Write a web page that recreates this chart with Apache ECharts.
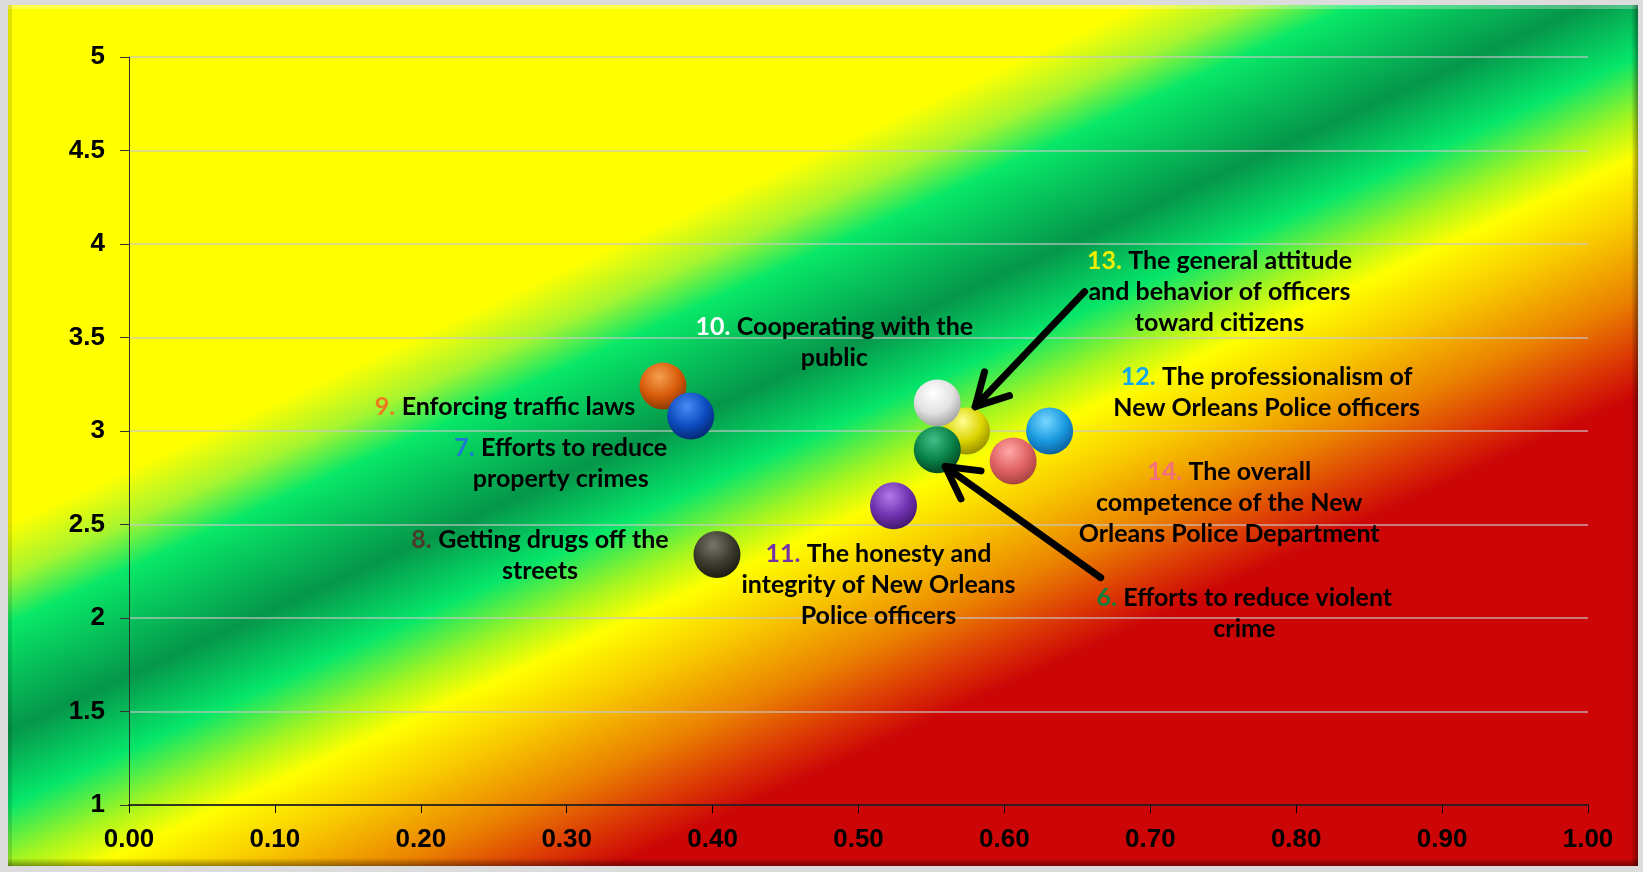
<!DOCTYPE html>
<html>
<head>
<meta charset="utf-8">
<title>NOPD ratings</title>
<script src="https://cdn.jsdelivr.net/npm/echarts@6/dist/echarts.min.js"></script>
<style>
html, body { margin: 0; padding: 0; background: #dcdcdc; }
#chart { width: 1643px; height: 872px; }
</style>
</head>
<body>
<div id="chart"></div>
<script>
// survey items
const itemNumbers = ['6.', '7.', '8.', '9.', '10.', '11.', '12.', '13.', '14.'];
const itemLines = [
    ['Efforts to reduce violent', 'crime'],
    ['Efforts to reduce', 'property crimes'],
    ['Getting drugs off the', 'streets'],
    ['Enforcing traffic laws'],
    ['Cooperating with the', 'public'],
    ['The honesty and', 'integrity of New Orleans', 'Police officers'],
    ['The professionalism of', 'New Orleans Police officers'],
    ['The general attitude', 'and behavior of officers', 'toward citizens'],
    ['The overall', 'competence of the New', 'Orleans Police Department']
];
const xValues = [0.554, 0.385, 0.403, 0.366, 0.554, 0.524, 0.631, 0.574, 0.606];
const yValues = [2.90, 3.08, 2.34, 3.24, 3.15, 2.60, 3.00, 3.00, 2.84];

// arrows (from -> to), in axis units
const arrowFrom = [[0.655, 3.745], [0.666, 2.216]];
const arrowTo = [[0.580, 3.130], [0.5595, 2.810]];

// axis ticks
const xTicks = [0, 0.1, 0.2, 0.3, 0.4, 0.5, 0.6, 0.7, 0.8, 0.9, 1.0];
const yTicks = [1, 1.5, 2, 2.5, 3, 3.5, 4, 4.5, 5];

// styles
const numColors = ['#0f7d3e', '#1f78d6', '#4b3a2a', '#ec7a1e', '#ffffff', '#7432a8', '#12a6ee', '#f2f000', '#f2707e'];
const ballColors = [
    ['#3fc088', '#098248', '#02401f'],
    ['#4a8cf5', '#0d4cc0', '#04246a'],
    ['#77766a', '#3c3b2e', '#18170f'],
    ['#f5a050', '#d85c0a', '#853404'],
    ['#ffffff', '#e2e2e2', '#9a9a9a'],
    ['#b27ae8', '#7032b0', '#3c1566'],
    ['#7ad8ff', '#1a9ae0', '#0a5896'],
    ['#ffff90', '#dcd400', '#8c8400'],
    ['#ffa8a8', '#e06262', '#a03c3c']
];
const labelOffsets = [[307, 164], [-130, 47], [-177, 1], [-158, 21], [-103, -61], [-15, 79], [217, -39], [253, -139], [216, 42]];
const drawOrder = [7, 8, 6, 5, 2, 3, 1, 4, 0];

const chart = echarts.init(document.getElementById('chart'));

const textFont = { fontFamily: 'Lato', fontSize: 25, fontWeight: 'bold', lineHeight: 31, align: 'center' };

const points = drawOrder.map(function (k) {
    const rich = {
        n: Object.assign({}, textFont, { color: numColors[k] }),
        t: Object.assign({}, textFont, { color: '#000' })
    };
    const text = itemLines[k].map(function (line, j) {
        return j === 0 ? '{n|' + itemNumbers[k] + '} {t|' + line + '}' : '{t|' + line + '}';
    }).join('\n');
    return {
        name: itemNumbers[k],
        value: [xValues[k], yValues[k]],
        itemStyle: {
            opacity: 1,
            color: {
                type: 'radial', x: 0.42, y: 0.3, r: 0.75,
                colorStops: [
                    { offset: 0, color: ballColors[k][0] },
                    { offset: 0.55, color: ballColors[k][1] },
                    { offset: 1, color: ballColors[k][2] }
                ]
            }
        },
        label: { offset: labelOffsets[k], formatter: text, rich: rich }
    };
});

const arrows = arrowFrom.map(function (f, i) {
    return [f[0], f[1], arrowTo[i][0], arrowTo[i][1]];
});

function renderArrow(params, api) {
    const from = api.coord([api.value(0), api.value(1)]);
    const to = api.coord([api.value(2), api.value(3)]);
    const ang = Math.atan2(from[1] - to[1], from[0] - to[0]);
    const len = 36, spread = 0.5;
    const w1 = [to[0] + len * Math.cos(ang - spread), to[1] + len * Math.sin(ang - spread)];
    const w2 = [to[0] + len * Math.cos(ang + spread), to[1] + len * Math.sin(ang + spread)];
    const style = { stroke: '#000', lineWidth: 7, lineCap: 'round', lineJoin: 'round', fill: null };
    return {
        type: 'group',
        children: [
            { type: 'line', shape: { x1: from[0], y1: from[1], x2: to[0], y2: to[1] }, style: style },
            { type: 'polyline', shape: { points: [w1, to, w2] }, style: style }
        ]
    };
}

// diagonal band background: yellow / green / yellow / orange / red
const bandFill = new echarts.graphic.LinearGradient(0, 0, 627, 1364, [
    { offset: 0, color: '#ffff00' },
    { offset: 0.32, color: '#ffff00' },
    { offset: 0.352, color: '#a6f530' },
    { offset: 0.38, color: '#08e868' },
    { offset: 0.445, color: '#05964a' },
    { offset: 0.49, color: '#06e66a' },
    { offset: 0.525, color: '#a6f520' },
    { offset: 0.55, color: '#ffff00' },
    { offset: 0.59, color: '#f8c800' },
    { offset: 0.635, color: '#ea8000' },
    { offset: 0.668, color: '#dc3a04' },
    { offset: 0.695, color: '#cc0606' },
    { offset: 1, color: '#cc0606' }
], true);

const option = {
    backgroundColor: '#dcdcdc',
    animation: false,
    graphic: [
        { type: 'rect', z: -10, shape: { x: 8, y: 5, width: 1630, height: 861 }, style: { fill: bandFill } },
        { type: 'rect', z: -9, shape: { x: 8, y: 5, width: 1630, height: 4 }, style: { fill: 'rgba(255,255,255,0.3)' } },
        { type: 'rect', z: -9, shape: { x: 8, y: 5, width: 4, height: 861 }, style: { fill: 'rgba(0,0,0,0.12)' } },
        {
            type: 'rect', z: -9, shape: { x: 8, y: 858, width: 1630, height: 8 },
            style: { fill: new echarts.graphic.LinearGradient(0, 0, 0, 1, [{ offset: 0, color: 'rgba(0,0,0,0)' }, { offset: 1, color: 'rgba(0,0,0,0.4)' }]) }
        },
        {
            type: 'rect', z: -9, shape: { x: 1631, y: 5, width: 7, height: 861 },
            style: { fill: new echarts.graphic.LinearGradient(0, 0, 1, 0, [{ offset: 0, color: 'rgba(0,0,0,0)' }, { offset: 1, color: 'rgba(0,0,0,0.4)' }]) }
        }
    ],
    grid: { left: 129, right: 55, top: 57, bottom: 67, containLabel: false, outerBoundsMode: 'none' },
    xAxis: {
        type: 'value',
        min: xTicks[0],
        max: xTicks[xTicks.length - 1],
        interval: 0.1,
        splitLine: { show: false },
        axisLine: { show: true, onZero: false, lineStyle: { color: '#000', width: 1.5 } },
        axisTick: { show: true, length: 8, lineStyle: { color: '#000' } },
        axisLabel: {
            margin: 22,
            color: '#000',
            fontFamily: 'Liberation Sans',
            fontSize: 26,
            fontWeight: 'bold',
            formatter: function (v) { return v.toFixed(2); }
        }
    },
    yAxis: {
        type: 'value',
        min: yTicks[0],
        max: yTicks[yTicks.length - 1],
        interval: 0.5,
        splitLine: { show: true, lineStyle: { color: 'rgba(200,200,200,0.8)', width: 1.5 } },
        axisLine: { show: true, onZero: false, lineStyle: { color: '#333', width: 1 } },
        axisTick: { show: true, length: 9, lineStyle: { color: '#333' } },
        axisLabel: {
            margin: 24,
            color: '#000',
            fontFamily: 'Liberation Sans',
            fontSize: 26,
            fontWeight: 'bold'
        }
    },
    series: [
        {
            type: 'scatter',
            symbol: 'circle',
            symbolSize: 47,
            itemStyle: { opacity: 1 },
            data: points,
            label: {
                show: true,
                position: 'inside',
                align: 'center',
                verticalAlign: 'middle',
                fontFamily: 'Lato',
                fontSize: 25
            },
            emphasis: { disabled: true }
        },
        {
            type: 'custom',
            renderItem: renderArrow,
            encode: { x: [0, 2], y: [1, 3] },
            data: arrows,
            z: 5,
            silent: true
        }
    ]
};

chart.setOption(option);
</script>
</body>
</html>
